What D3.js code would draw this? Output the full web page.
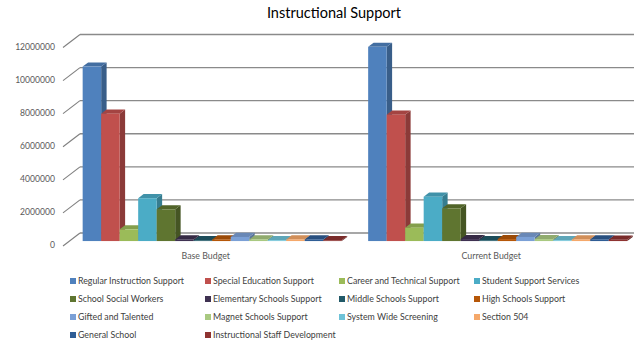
<!DOCTYPE html>
<html>
<head>
<meta charset="utf-8">
<script src="https://cdn.jsdelivr.net/npm/d3@7"></script>
<style>
  html, body { margin: 0; padding: 0; background: #fff; }
  svg { display: block; font-family: Lato, "Open Sans", sans-serif; }
</style>
</head>
<body>
<svg id="chart" width="634" height="347"></svg>
<script>
// Budget categories (x axis groups)
const categories = ["Base Budget", "Current Budget"];

// Series names, one column per line item
const seriesNames = [
  "Regular Instruction Support", "Special Education Support", "Career and Technical Support",
  "Student Support Services", "School Social Workers", "Elementary Schools Support",
  "Middle Schools Support", "High Schools Support", "Gifted and Talented",
  "Magnet Schools Support", "System Wide Screening", "Section 504",
  "General School", "Instructional Staff Development"
];

// Values per series: [Base Budget, Current Budget]
const baseBudget    = [10550000, 7700000, 710000, 2590000, 1920000, 100000, 50000, 100000, 250000, 100000, 50000, 100000, 100000, 50000];
const currentBudget = [11740000, 7640000, 810000, 2680000, 1980000, 120000, 50000, 120000, 250000, 120000, 50000, 100000, 100000, 80000];

// Tick values of the value axis
const yTicks = [0, 2000000, 4000000, 6000000, 8000000, 10000000, 12000000];

const seriesColors = [
  "#4F81BD", "#C0504D", "#9BBB59", "#4BACC6", "#5F7530", "#3F3151", "#215968",
  "#B65708", "#7BA0D6", "#A9C981", "#6FC3D8", "#F5A86A", "#2F5D95", "#8E3331"
];

const svg = d3.select("#chart");

// Oblique 3D projection: depth 0 = front plane, depth 1 = back wall
const DX = 17, DY = -13;
const proj = (x, y, d) => [x + DX * d, y + DY * d];

const y = d3.scaleLinear().domain([0, 12000000]).range([246, 47.5]);
const x0 = d3.scaleBand().domain(categories).range([63, 634]).padding(0);
const x1 = d3.scaleBand().domain(d3.range(seriesNames.length))
  .range([13.2, x0.bandwidth() - 13.2]).padding(0);

const depthFront = 0.38, depthBack = 0.70;

// Title
svg.append("text")
  .attr("x", 334).attr("y", 18)
  .attr("text-anchor", "middle")
  .attr("font-size", 14.5)
  .attr("fill", "#000")
  .text("Instructional Support");

// Back-wall gridlines and slanted side ticks
const grid = svg.append("g");
yTicks.forEach(v => {
  const f = proj(63, y(v), 0), b = proj(63, y(v), 1);
  grid.append("line")
    .attr("x1", f[0]).attr("y1", f[1]).attr("x2", b[0]).attr("y2", b[1])
    .attr("stroke", "#7f7f7f").attr("stroke-width", 1.1);
  grid.append("line")
    .attr("x1", b[0]).attr("y1", b[1]).attr("x2", 634).attr("y2", b[1])
    .attr("stroke", "#8a8a8a").attr("stroke-width", 1.3);
});

// Value axis labels
svg.append("g").selectAll("text").data(yTicks).join("text")
  .attr("x", 55).attr("y", d => y(d) - 1)
  .attr("dy", "0.35em")
  .attr("text-anchor", "end")
  .attr("font-size", 8.6)
  .attr("fill", "#595959")
  .text(d => d3.format("d")(d));

// 3D columns
const values = [baseBudget, currentBudget];
const bars = svg.append("g");
categories.forEach((cat, ci) => {
  seriesNames.forEach((name, si) => {
    const v = values[ci][si];
    const xl = x0(cat) + x1(si), xr = xl + x1.bandwidth();
    const yt = y(v), yb = y(0);
    const c = d3.color(seriesColors[si]);
    const pt = (xx, yy, d) => proj(xx, yy, d).join(",");
    const g = bars.append("g");
    // side face
    g.append("polygon")
      .attr("points", [pt(xr, yb, depthFront), pt(xr, yb, depthBack), pt(xr, yt, depthBack), pt(xr, yt, depthFront)].join(" "))
      .attr("fill", c.darker(0.9));
    // top face
    g.append("polygon")
      .attr("points", [pt(xl, yt, depthFront), pt(xr, yt, depthFront), pt(xr, yt, depthBack), pt(xl, yt, depthBack)].join(" "))
      .attr("fill", c.darker(0.45));
    // front face
    const f0 = proj(xl, yt, depthFront), f1 = proj(xr, yb, depthFront);
    g.append("rect")
      .attr("x", f0[0]).attr("y", f0[1])
      .attr("width", f1[0] - f0[0]).attr("height", Math.max(0, f1[1] - f0[1]))
      .attr("fill", c);
  });
});

// Category labels
svg.append("g").selectAll("text").data(categories).join("text")
  .attr("x", d => x0(d) + x0.bandwidth() / 2)
  .attr("y", 259)
  .attr("text-anchor", "middle")
  .attr("font-size", 8.8)
  .attr("fill", "#595959")
  .text(d => d);

// Legend: 4 columns
const colX = [70, 205, 339, 474];
const rowY = [281, 299, 317, 335];
const legend = svg.append("g").selectAll("g").data(seriesNames).join("g")
  .attr("transform", (d, i) => `translate(${colX[i % 4]},${rowY[Math.floor(i / 4)]})`);
legend.append("rect")
  .attr("x", 0).attr("y", -3).attr("width", 6).attr("height", 6)
  .attr("fill", (d, i) => seriesColors[i]);
legend.append("text")
  .attr("x", 8).attr("y", 0).attr("dy", "0.35em")
  .attr("font-size", 8.8)
  .attr("fill", "#404040")
  .text(d => d);
</script>
</body>
</html>
